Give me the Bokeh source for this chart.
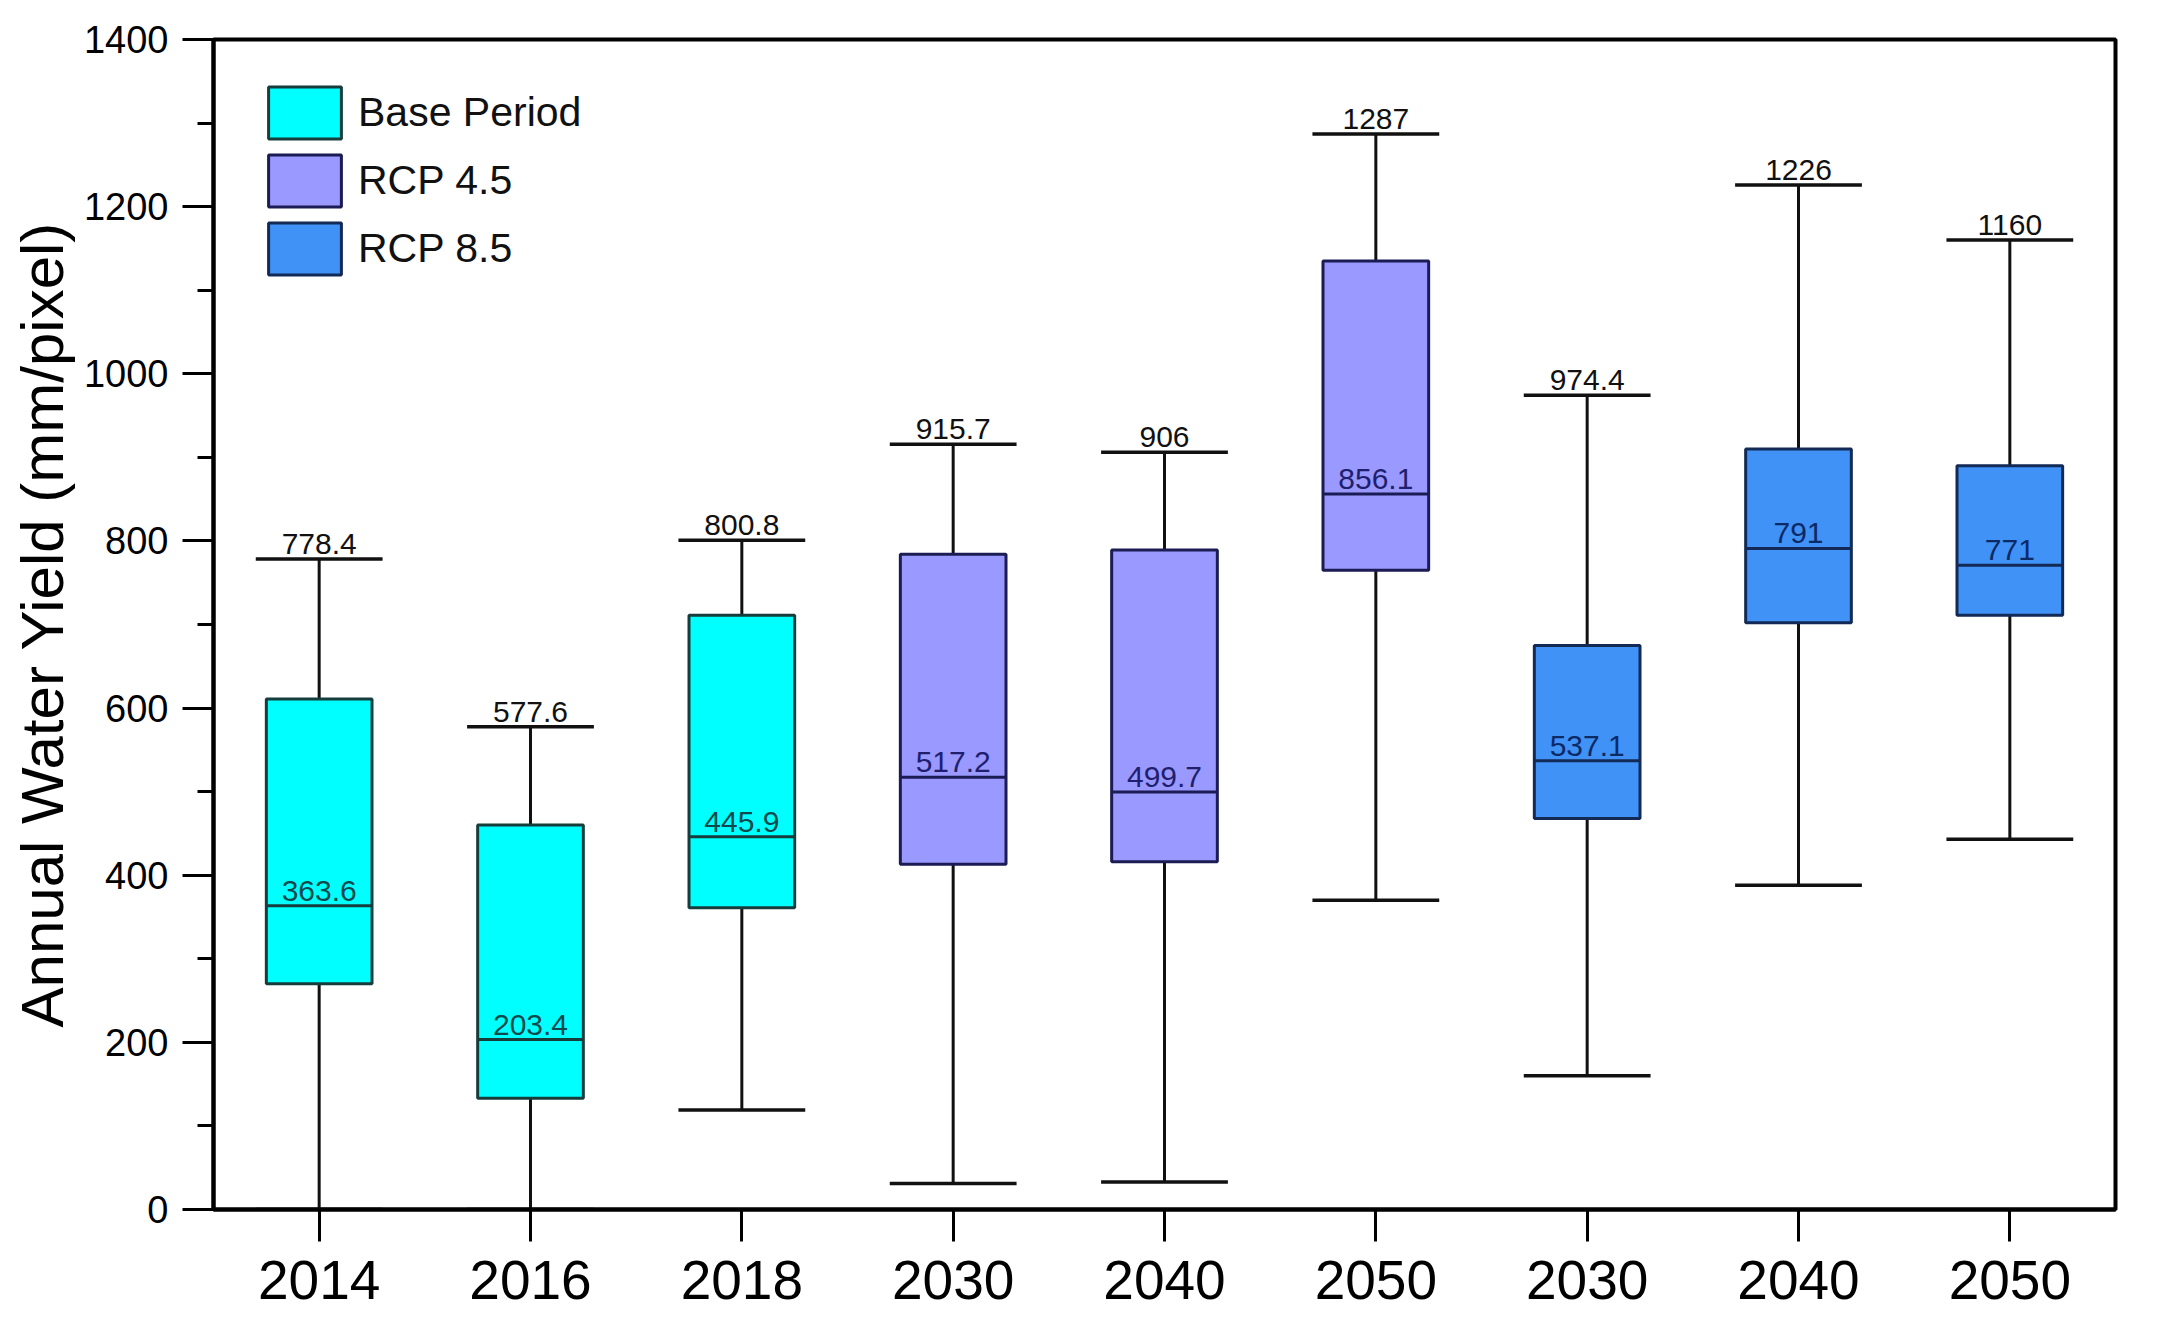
from bokeh.plotting import figure
from bokeh.models import FixedTicker, Legend, LegendItem, ColumnDataSource
from bokeh.core.properties import value
from bokeh.embed import file_html
from bokeh.resources import INLINE

# ---- data ----
tick_labels = ["2014", "2016", "2018", "2030", "2040", "2050", "2030", "2040", "2050"]
groups = ["Base Period"] * 3 + ["RCP 4.5"] * 3 + ["RCP 8.5"] * 3
whisker_min = [0, 0, 119, 31, 33, 370, 160, 388, 443]
q1 = [270, 133, 361, 413, 416, 765, 468, 702, 711]
median = [363.6, 203.4, 445.9, 517.2, 499.7, 856.1, 537.1, 791, 771]
q3 = [611, 460, 711, 784, 789, 1135, 675, 910, 890]
whisker_max = [778.4, 577.6, 800.8, 915.7, 906, 1287, 974.4, 1226, 1160]
max_labels = ["778.4", "577.6", "800.8", "915.7", "906", "1287", "974.4", "1226", "1160"]
median_labels = ["363.6", "203.4", "445.9", "517.2", "499.7", "856.1", "537.1", "791", "771"]

group_names = ["Base Period", "RCP 4.5", "RCP 8.5"]
fill_colors = {"Base Period": "#00FFFF", "RCP 4.5": "#9999FF", "RCP 8.5": "#4092F6"}
line_colors = {"Base Period": "#173c3c", "RCP 4.5": "#1c1c55", "RCP 8.5": "#122a55"}
median_text_colors = {"Base Period": "#0e4a4c", "RCP 4.5": "#1f1f6e", "RCP 8.5": "#0c2a66"}

FONT = "Liberation Sans"

xs = list(range(1, len(tick_labels) + 1))
box_w = 0.5
cap_w = 0.6
W, H = 2141, 1320
LEFT, TOP, FW, FH = 213, 39, 1902, 1170
Y_END = 1400
px = Y_END / FH          # data units per screen pixel (vertical)
LABEL_GAP = 15           # label anchor above its line, in pixels

p = figure(width=W, height=H,
           x_range=(0.5, 9.5), y_range=(0, Y_END),
           output_backend="svg", toolbar_location=None,
           min_border_left=LEFT, min_border_top=TOP,
           min_border_right=W - LEFT - FW, min_border_bottom=H - TOP - FH)

p.background_fill_color = "white"
p.border_fill_color = "white"
p.outline_line_color = "black"
p.outline_line_width = 4
p.xgrid.visible = False
p.ygrid.visible = False

src = ColumnDataSource(dict(
    x=xs,
    x0c=[x - cap_w / 2 for x in xs], x1c=[x + cap_w / 2 for x in xs],
    lo=whisker_min, q1=q1, med=median, q3=q3, hi=whisker_max,
    hi_lab=[v + LABEL_GAP * px for v in whisker_max],
    med_lab=[v + LABEL_GAP * px for v in median],
    maxlab=max_labels, medlab=median_labels,
    medcol=[median_text_colors[g] for g in groups],
))
# whiskers and caps
p.segment(x0="x", x1="x", y0="q3", y1="hi", source=src, line_color="#111111", line_width=3)
p.segment(x0="x", x1="x", y0="lo", y1="q1", source=src, line_color="#111111", line_width=3)
p.segment(x0="x0c", x1="x1c", y0="hi", y1="hi", source=src, line_color="#111111", line_width=3.5)
p.segment(x0="x0c", x1="x1c", y0="lo", y1="lo", source=src, line_color="#111111", line_width=3.5)

# boxes per group (for legend)
renderers = {}
for g in group_names:
    idx = [i for i, gg in enumerate(groups) if gg == g]
    s = ColumnDataSource(dict(x=[xs[i] for i in idx], top=[q3[i] for i in idx],
                              bottom=[q1[i] for i in idx]))
    renderers[g] = p.vbar(x="x", width=box_w, top="top", bottom="bottom", source=s,
                          fill_color=fill_colors[g], line_color=line_colors[g], line_width=3)

# medians
for g in group_names:
    idx = [i for i, gg in enumerate(groups) if gg == g]
    p.segment(x0=[xs[i] - box_w / 2 for i in idx], x1=[xs[i] + box_w / 2 for i in idx],
              y0=[median[i] for i in idx], y1=[median[i] for i in idx],
              line_color=line_colors[g], line_width=3)

# labels
p.text(x="x", y="hi_lab", text="maxlab", source=src, text_font=value(FONT), text_font_size="30px",
       text_align="center", text_baseline="alphabetic", text_color="#111111")
p.text(x="x", y="med_lab", text="medlab", source=src, text_font=value(FONT), text_font_size="30px",
       text_align="center", text_baseline="alphabetic", text_color="medcol")

# axes
p.xaxis.ticker = FixedTicker(ticks=xs)
p.xaxis.major_label_overrides = {x: lab for x, lab in zip(xs, tick_labels)}
p.xaxis.major_label_text_font = FONT
p.xaxis.major_label_text_font_size = "55px"
p.xaxis.major_label_text_color = "black"
p.xaxis.major_label_standoff = 19
p.xaxis.major_tick_out = 32
p.xaxis.major_tick_in = 0
p.xaxis.major_tick_line_width = 3
p.xaxis.minor_tick_line_color = None
p.xaxis.axis_line_width = 4

p.yaxis.ticker = FixedTicker(ticks=list(range(0, 1401, 200)), minor_ticks=list(range(0, 1401, 100)))
p.yaxis.major_label_text_font = FONT
p.yaxis.major_label_text_font_size = "38px"
p.yaxis.major_label_text_color = "black"
p.yaxis.major_label_standoff = 14
p.yaxis.major_tick_out = 31
p.yaxis.major_tick_in = 0
p.yaxis.minor_tick_out = 16
p.yaxis.minor_tick_in = 0
p.yaxis.major_tick_line_width = 3
p.yaxis.minor_tick_line_width = 3
p.yaxis.axis_line_width = 4
p.yaxis.axis_label = "Annual Water Yield (mm/pixel)"
p.yaxis.axis_label_text_font = FONT
p.yaxis.axis_label_text_font_size = "60px"
p.yaxis.axis_label_text_font_style = "normal"
p.yaxis.axis_label_text_color = "black"
p.yaxis.axis_label_standoff = 5

GW, GH, SP = 91, 65, 3
legend_h = 3 * GH + 2 * SP
legend = Legend(items=[LegendItem(label=g, renderers=[renderers[g]]) for g in group_names],
                location=(46, FH - 41 - legend_h))
legend.border_line_color = None
legend.background_fill_alpha = 0
legend.padding = 0
legend.margin = 0
legend.spacing = SP
legend.glyph_width = GW
legend.glyph_height = GH
legend.label_standoff = 8
legend.label_text_font = FONT
legend.label_text_font_size = "41px"
legend.label_text_color = "#111111"
p.add_layout(legend)

open("out.html", "w").write(file_html(p, INLINE))
